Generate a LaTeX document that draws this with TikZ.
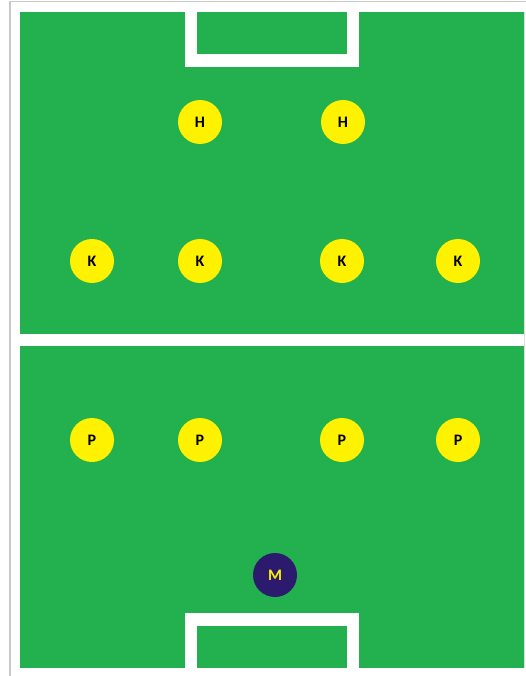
\documentclass[tikz,border=0pt]{standalone}
\usepackage{fontspec}
\setmainfont{Carlito}
\definecolor{pitch}{RGB}{35,176,78}
\definecolor{pyellow}{RGB}{255,242,0}
\definecolor{navy}{RGB}{44,26,110}
\definecolor{frame}{RGB}{200,200,200}
\tikzset{
  player/.style={circle,fill=pyellow,minimum size=44pt,inner sep=0pt,font=\bfseries\fontsize{16}{16}\selectfont,text=black},
  keeper/.style={circle,fill=navy,minimum size=44pt,inner sep=0pt,font=\bfseries\fontsize{16}{16}\selectfont,text=pyellow},
  line/.style={fill=white}
}
\begin{document}
\begin{tikzpicture}[x=1pt,y=-1pt]
\useasboundingbox (0,0) rectangle (526,676);
\fill[white] (0,0) rectangle (526,676);
% outer frame lines
\draw[frame,line width=1.2pt] (10,676) -- (10,1.5) -- (526,1.5);
\draw[frame!60,line width=1pt] (524.5,12) -- (524.5,668);
% pitch
\fill[pitch] (20,12) rectangle (523.5,668);
% midline
\fill[white] (20,334) rectangle (523.5,345.5);
% top goal
\fill[white] (184.5,12) rectangle (358.5,67);
\fill[pitch] (197,12) rectangle (346.5,54);
% bottom goal
\fill[white] (184.5,613) rectangle (358.5,668);
\fill[pitch] (197,626) rectangle (346.5,668);
% players
\node[player] (h1) at (200,122) {H};
\node[player] (h2) at (343,122) {H};
\node[player] (k1) at (92,261) {K};
\node[player] (k2) at (200,261) {K};
\node[player] (k3) at (342,261) {K};
\node[player] (k4) at (458,261) {K};
\node[player] (p1) at (92,440) {P};
\node[player] (p2) at (200,440) {P};
\node[player] (p3) at (342,440) {P};
\node[player] (p4) at (458,440) {P};
\node[keeper] (m) at (275,575) {M};
\end{tikzpicture}
\end{document}
